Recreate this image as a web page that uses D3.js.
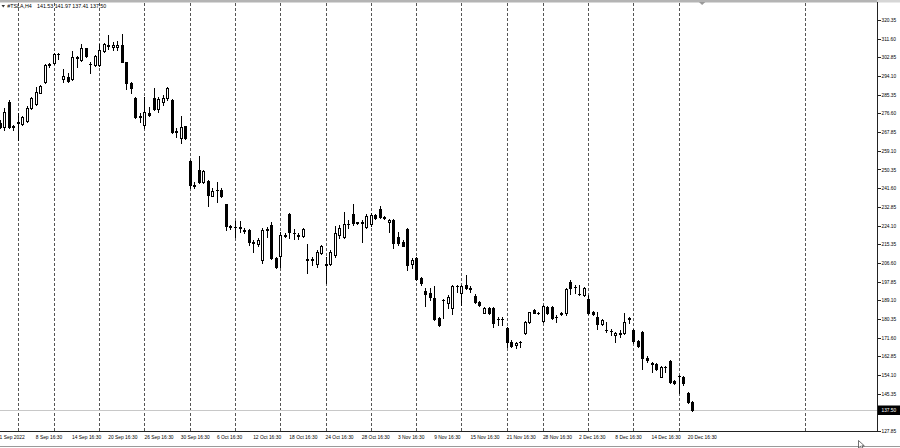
<!DOCTYPE html>
<html><head><meta charset="utf-8">
<script src="https://cdn.jsdelivr.net/npm/d3@7/dist/d3.min.js"></script>
<style>html,body{margin:0;padding:0;background:#fff;overflow:hidden}</style>
</head><body><svg id="c" width="900" height="448"></svg>
<script>
// ---- data ----
const symbol = "#TSLA,H4";
const lastBarText = "141.53 141.97 137.41 137.50";
const lastPrice = 137.50;
const open = [271.97,270.37,282.08,270.70,271.97,271.50,273.04,278.99,281.01,286.16,
291.08,299.74,300.07,304.29,292.58,293.79,292.58,302.65,301.62,307.10,
299.74,299.27,299.27,305.97,308.41,307.57,307.57,308.64,300.54,290.70,
283.68,275.62,271.17,276.94,283.68,278.66,281.80,283.68,282.88,268.22,
264.94,270.56,254.40,242.93,250.09,244.33,245.13,238.15,240.58,240.72,
234.07,223.72,223.25,223.25,221.85,221.99,216.23,215.57,208.17,222.08,
224.33,209.11,210.04,219.23,229.39,220.72,219.55,219.41,208.41,208.26,
206.06,211.36,205.78,206.06,210.28,219.65,218.85,224.66,229.48,225.64,
225.31,223.54,224.80,229.01,232.06,228.08,225.60,226.67,218.85,216.51,
222.46,206.06,208.73,199.37,193.57,192.35,190.01,180.64,188.98,187.94,
185.32,195.53,192.35,196.24,194.83,191.08,188.41,183.26,185.32,185.32,
180.17,180.17,176.24,169.68,168.13,169.54,173.61,179.05,184.53,183.12,
179.51,186.07,185.79,181.25,182.84,182.98,197.64,195.30,192.02,191.55,
189.68,183.73,181.39,177.97,175.30,174.78,172.68,173.47,173.89,180.50,
175.16,170.01,174.36,162.18,159.42,159.09,153.28,157.83,160.78,151.27,
153.52,153.28,145.79,141.53];
const high = [273.51,279.13,282.88,271.40,276.65,275.39,280.07,284.43,288.83,289.91,
299.60,300.07,305.04,305.04,297.26,295.53,305.97,303.35,308.97,307.38,
300.82,303.96,309.11,309.44,313.33,310.19,310.52,313.79,300.82,291.45,
284.43,276.65,284.43,279.79,288.36,284.43,285.22,289.16,283.35,269.62,
275.39,270.70,254.78,244.66,256.74,250.09,245.41,241.52,244.24,241.52,
234.40,224.33,226.30,226.20,222.93,222.32,217.30,218.10,222.78,223.25,
225.97,209.58,221.05,220.58,229.81,222.32,220.58,222.78,215.43,209.49,
212.62,214.96,209.21,212.62,223.86,224.33,230.56,226.67,234.03,225.97,
226.67,229.48,229.81,229.48,233.23,228.55,227.00,227.00,220.91,217.30,
222.78,208.73,209.21,199.83,194.69,194.69,195.77,181.39,189.68,191.55,
196.24,196.24,196.24,200.92,195.77,192.02,188.88,185.79,185.79,185.79,
181.39,181.39,176.70,170.47,169.68,170.15,179.51,183.73,184.85,183.45,
186.87,186.54,186.40,182.18,183.73,194.69,198.58,196.24,196.24,195.16,
191.55,184.20,183.73,180.17,179.05,175.49,174.36,175.16,182.98,181.39,
175.49,170.47,174.69,162.98,160.31,159.56,158.30,158.30,161.11,151.74,
154.08,153.61,146.26,141.97];
const low = [269.76,268.83,269.76,268.83,264.14,271.17,272.58,278.66,280.54,285.93,
290.70,298.48,299.74,301.94,291.45,291.31,292.25,298.48,301.29,303.16,
295.67,298.81,298.81,305.50,306.63,306.30,306.30,300.54,287.89,286.02,
274.31,272.72,269.62,275.39,278.20,277.40,280.54,282.88,267.42,265.74,
262.60,264.71,241.89,241.56,244.00,243.91,233.37,237.92,235.24,237.59,
221.99,222.69,218.71,221.19,220.58,214.96,211.82,214.49,206.39,218.85,
208.26,204.42,204.80,218.71,218.24,217.63,217.77,218.85,201.99,205.60,
204.80,210.98,197.30,205.60,209.49,218.10,218.10,222.78,224.33,224.80,
216.51,222.93,223.86,227.14,227.84,227.14,221.05,213.56,214.96,214.49,
203.25,204.19,198.57,196.23,186.40,189.21,179.84,177.03,180.64,185.32,
182.65,193.10,186.87,194.22,193.10,187.94,186.40,182.98,182.65,176.42,
177.50,177.50,167.34,167.34,166.59,167.34,173.28,178.58,182.98,182.65,
179.05,182.51,180.17,179.05,182.18,182.18,192.02,192.35,191.55,191.08,
182.51,182.04,175.49,177.50,174.36,172.82,169.68,172.02,173.28,178.30,
169.21,167.34,156.75,160.31,155.63,156.42,153.00,155.63,150.19,149.86,
145.51,149.39,141.11,137.41];
const close = [270.37,277.40,270.37,270.09,272.72,274.78,278.99,283.68,286.63,289.44,
299.27,299.41,304.43,304.52,294.26,291.92,302.88,302.88,307.10,303.49,
299.51,303.49,306.30,308.97,308.22,308.64,308.78,300.82,290.70,288.36,
274.78,275.15,277.03,275.85,278.66,283.35,283.68,288.36,267.89,267.89,
270.37,264.94,242.93,242.46,244.47,249.62,238.38,240.40,240.86,238.01,
223.86,223.44,223.49,223.02,221.57,216.23,215.90,217.30,221.99,222.32,
208.73,204.80,219.65,219.46,220.91,220.44,219.32,222.32,208.17,208.08,
211.82,214.49,206.06,211.54,220.44,222.78,224.80,224.89,225.41,225.17,
225.55,228.69,229.01,227.47,228.22,227.80,226.67,215.76,216.13,214.63,
205.60,207.93,199.04,197.02,192.02,190.76,180.17,177.50,189.21,190.76,
195.77,195.77,195.77,194.69,194.55,188.41,186.87,185.32,182.98,178.30,
180.40,180.40,169.68,167.80,169.21,169.68,179.05,183.45,183.26,182.89,
186.40,182.98,180.64,181.01,183.07,194.36,194.83,195.44,191.79,194.69,
183.12,182.51,177.97,179.84,175.06,174.55,173.61,173.71,179.05,180.73,
170.01,167.80,162.18,161.11,159.65,156.89,157.97,157.97,150.63,150.19,
153.71,150.19,141.57,137.50];
// time labels, one every 8 bars
const timeLabels = ["1 Sep 2022","8 Sep 16:30","14 Sep 16:30","20 Sep 16:30","26 Sep 16:30",
"30 Sep 16:30","6 Oct 16:30","12 Oct 16:30","18 Oct 16:30","24 Oct 16:30","28 Oct 16:30",
"3 Nov 16:30","9 Nov 16:30","15 Nov 16:30","21 Nov 16:30","28 Nov 16:30","2 Dec 16:30",
"8 Dec 16:30","14 Dec 16:30","20 Dec 16:30"];
const labelEvery = 8;
// bar index of each week start (grid lines)
const weekStartBars = [4,12,22,32,42,52,62,72,82,92,102,112,120,130,140,150,178];
const priceTicks = [320.35,311.60,302.85,294.10,285.35,276.60,267.85,259.10,250.35,241.60,
232.85,224.10,215.35,206.60,197.85,189.10,180.35,171.60,162.85,154.10,145.35,127.85];
const shiftBar = 155;

// ---- drawing ----
const svg = d3.select("#c");
const font = "'Liberation Sans', Arial, sans-serif";
const plotRight = 877, plotBottom = 431;
const x = d3.scaleLinear().domain([0, 150]).range([-0.4, 678.7]);
const y = d3.scaleLinear().domain([127.85, 320.35]).range([431, 20]);

svg.append("rect").attr("width",900).attr("height",448).attr("fill","#fff");
svg.append("rect").attr("x",0).attr("y",0).attr("width",plotRight).attr("height",2.5).attr("fill","#b4b4b4");
svg.append("rect").attr("x",plotRight).attr("y",0).attr("width",900-plotRight).attr("height",2.5).attr("fill","#d6d6d6");

// grid
svg.append("g").attr("shape-rendering","crispEdges")
  .selectAll("line").data(weekStartBars).join("line")
  .attr("x1", d => Math.round(x(d)) + 0.5).attr("x2", d => Math.round(x(d)) + 0.5)
  .attr("y1", 3).attr("y2", plotBottom)
  .attr("stroke", "#555").attr("stroke-dasharray", "3,2");

// last price line
const py = Math.round(y(lastPrice)) + 0.5;
svg.append("line").attr("x1",0).attr("x2",plotRight).attr("y1",py).attr("y2",py)
  .attr("stroke","#c8c8c8").attr("shape-rendering","crispEdges");

// candles
const cg = svg.append("g").attr("shape-rendering","crispEdges");
d3.range(open.length).forEach(i => {
  const c = Math.round(x(i));
  const h = Math.round(y(high[i])), l = Math.round(y(low[i]));
  const o = y(open[i]), cl = y(close[i]);
  cg.append("line").attr("x1",c+0.5).attr("x2",c+0.5).attr("y1",h).attr("y2",l+1).attr("stroke","#000");
  const top = Math.round(Math.min(o,cl)), bot = Math.round(Math.max(o,cl));
  if (bot - top < 1) {
    cg.append("line").attr("x1",c-1).attr("x2",c+2).attr("y1",top+0.5).attr("y2",top+0.5).attr("stroke","#000");
  } else {
    cg.append("rect").attr("x",c-0.5).attr("y",top+0.5).attr("width",2).attr("height",bot-top)
      .attr("fill", close[i] >= open[i] ? "#fff" : "#000").attr("stroke","#000");
  }
});

// frame
svg.append("g").attr("shape-rendering","crispEdges").call(g => {
  g.append("line").attr("x1",plotRight+0.5).attr("x2",plotRight+0.5).attr("y1",2).attr("y2",plotBottom+1).attr("stroke","#222");
  g.append("line").attr("x1",0).attr("x2",plotRight+1).attr("y1",plotBottom+0.5).attr("y2",plotBottom+0.5).attr("stroke","#222");
  g.append("line").attr("x1",0).attr("x2",900).attr("y1",446.5).attr("y2",446.5).attr("stroke","#9a9a9a");
});

// price axis
const ya = svg.append("g").attr("transform",`translate(${plotRight+0.5},0)`)
  .call(d3.axisRight(y).tickValues(priceTicks).tickSize(3).tickPadding(1).tickFormat(d3.format(".2f")));
ya.select(".domain").remove();
ya.selectAll("line").attr("stroke","#222").attr("shape-rendering","crispEdges");
ya.selectAll("text").attr("font-family",font).attr("font-size",4.8).attr("fill","#000");

// last price tag
svg.append("rect").attr("x",plotRight+1).attr("y",py-5).attr("width",900-plotRight-1).attr("height",9.5).attr("fill","#000");
svg.append("text").attr("x",plotRight+4.5).attr("y",py).attr("dy","0.34em")
  .attr("font-family",font).attr("font-size",4.8).attr("fill","#fff").text(d3.format(".2f")(lastPrice));

// time labels
svg.append("g").selectAll("text").data(timeLabels).join("text")
  .attr("x",(d,k) => x(k*labelEvery)).attr("y",437.5).attr("dy","0.34em")
  .attr("font-family",font).attr("font-size",4.9).attr("fill","#000").text(d => d);

// header
svg.append("path").attr("d","M1.5,5 L5,5 L3.25,7.5 Z").attr("fill","#333");
svg.append("text").attr("x",7.3).attr("y",6.3).attr("dy","0.34em").attr("font-family",font)
  .attr("font-size",5.3).attr("fill","#000").text(symbol);
svg.append("text").attr("x",37).attr("y",6.3).attr("dy","0.34em").attr("font-family",font)
  .attr("font-size",5.3).attr("fill","#000").text(lastBarText);

// chart shift marker
const sx = x(shiftBar) + 0.8;
svg.append("path").attr("d",`M${sx-3.2},2 L${sx+3.2},2 L${sx},5 Z`).attr("fill","#9a9a9a");

// mouse pointer
svg.append("path").attr("d","M858.5,440.5 L858.5,448 L860.4,446.3 L861.7,449 L863,448.4 L861.8,445.8 L864.3,445.8 Z")
  .attr("fill","#fff").attr("stroke","#333").attr("stroke-width",0.7);
</script></body></html>
